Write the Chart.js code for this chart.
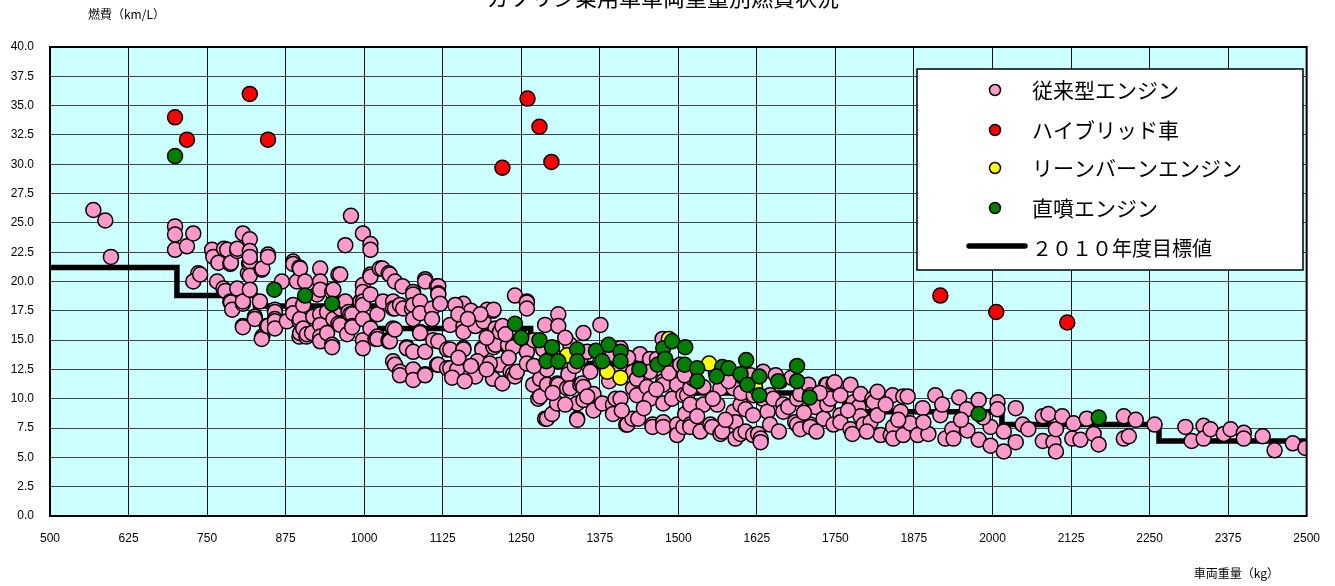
<!DOCTYPE html>
<html>
<head>
<meta charset="utf-8">
<script src="https://cdn.jsdelivr.net/npm/chart.js@4/dist/chart.umd.min.js"></script>
<style>
    body { margin: 0; background: #fff; }
</style>
</head>
<body>
<canvas id="fuelChart" width="1335" height="586"></canvas>
<script>
'use strict';

var chartTitle = 'ガソリン乗用車車両重量別燃費状況';
var yTitle = '燃費（km/L）';
var xTitle = '車両重量（kg）';
var seriesNames = ['従来型エンジン', 'ハイブリッド車', 'リーンバーンエンジン', '直噴エンジン', '２０１０年度目標値'];

// [車両重量 kg, 燃費 km/L]
var conventional = [
    [569,26.1],[588,25.2],[597,22.1],[699,24.7],[699,24.0],[699,22.7],[718,23.0],[728,24.1],[736,20.7],[728,20.0],
    [739,20.6],[758,22.7],[760,22.1],[768,21.6],[777,22.8],[782,22.7],[787,21.5],[788,21.6],[766,20.0],[776,19.4],
    [779,19.2],[787,18.3],[788,18.2],[790,17.6],[798,22.6],[798,19.4],[798,22.8],
    [807,24.1],[818,23.6],[807,18.1],[807,18.3],[807,16.2],[807,16.1],[815,20.7],[817,21.5],[818,22.6],[818,21.7],
    [818,20.5],[818,19.3],[818,22.1],[826,17.0],[826,16.8],[834,18.3],[837,21.0],[838,21.1],[838,15.3],[837,15.1],
    [845,16.2],[847,22.3],[847,22.1],[847,16.2],[858,17.6],[858,17.4],[858,16.8],[858,16.6],[858,16.0],[869,20.0],
    [877,16.6],[887,21.7],[887,21.5],[887,18.0],[887,17.3],[893,20.0],[897,21.2],[897,16.6],[897,15.3],[898,21.1],
    [898,16.8],[898,15.6],[903,18.0],[903,16.0],[906,20.0],[908,15.3],[909,15.5],[917,15.6],[919,17.0],[925,18.9],
    [930,21.1],[930,20.0],[930,19.3],[930,17.2],[930,16.3],[930,15.3],[930,14.9],[941,17.4],[941,15.6],[949,19.1],
    [949,14.6],[949,14.4],[951,19.3],[951,16.8],[959,20.6],[959,16.4],[962,20.6],[962,17.7],[962,16.3],[970,23.1],
    [970,18.1],[970,18.3],[973,15.5],[975,17.4],[978,17.2],[979,25.6],[981,17.2],[981,16.2],[981,16.1],[994,18.3],
    [998,24.1],[998,19.7],[998,19.1],[998,18.3],[998,18.0],[998,16.8],[998,15.0],[998,14.3],
    [1010,23.2],[1010,22.7],[1010,20.6],[1010,20.4],[1010,18.9],[1010,16.0],[1018,15.1],[1021,17.2],[1021,15.3],[1021,15.1],
    [1025,21.1],[1029,21.1],[1030,18.3],[1039,20.7],[1039,15.0],[1039,14.9],[1041,20.6],[1041,14.9],[1046,18.3],[1046,17.7],
    [1046,16.0],[1046,13.2],[1049,20.0],[1049,17.7],[1049,15.9],[1049,12.9],[1057,18.0],[1057,12.3],[1057,12.0],[1061,19.6],
    [1062,17.7],[1068,14.4],[1068,14.3],[1076,17.7],[1078,19.1],[1078,18.9],[1078,18.0],[1078,16.8],[1078,14.0],[1078,12.5],
    [1078,11.6],[1089,18.3],[1089,17.3],[1089,15.7],[1089,15.6],[1097,20.2],[1097,20.0],[1097,14.0],[1097,12.1],[1097,12.0],
    [1108,17.7],[1108,16.8],[1110,15.0],[1116,19.6],[1116,12.9],[1118,19.6],[1118,19.0],[1118,18.9],[1118,14.9],[1118,12.9],
    [1121,18.1],
    [1132,14.2],[1132,12.6],[1137,16.3],[1137,14.2],[1137,12.6],[1148,12.5],[1158,18.1],[1158,16.2],[1158,15.7],[1158,14.3],
    [1158,14.2],[1177,16.2],[1177,11.9],[1188,14.3],[1188,14.2],[1190,16.6],[1196,17.6],[1205,17.5],[1205,14.6],[1205,11.7],
    [1206,17.6],[1206,14.4],[1209,16.0],[1209,14.6],[1216,15.7],[1216,12.9],[1220,16.2],[1220,11.3],[1229,14.4],[1229,14.6],
    [1233,12.3],[1237,14.4],[1237,12.1],[1240,18.8],[1240,11.9],[1243,12.3],[1145,18.0],[1170,17.5],[1185,17.2],[1150,17.2],
    [1165,16.8],[1195,15.2],[1225,15.5],[1180,13.2],[1200,13.0],[1230,13.5],[1150,13.5],[1170,12.8],[1140,11.8],[1160,11.5],
    [1195,12.5],
    [1259,18.3],[1259,18.2],[1259,17.7],[1259,14.0],[1259,13.0],[1269,11.2],[1277,10.0],[1280,11.7],[1280,10.2],[1288,16.3],
    [1288,8.3],[1291,12.5],[1291,11.2],[1291,8.3],[1299,8.7],[1307,11.3],[1307,9.6],[1309,17.2],[1309,16.2],[1309,11.2],
    [1317,13.2],[1323,10.9],[1325,12.1],[1328,14.6],[1328,10.9],[1339,9.6],[1339,8.3],[1339,8.2],[1344,13.4],[1344,11.2],
    [1347,11.3],[1349,15.6],[1349,11.0],[1349,9.9],[1360,12.3],[1365,10.4],[1270,15.0],[1285,14.2],[1300,13.8],[1320,15.2],
    [1335,12.8],[1355,14.0],[1270,12.8],[1300,10.5],[1320,9.5],[1355,10.2],[1365,9.0],
    [1376,16.3],[1376,13.2],[1379,9.6],[1396,9.5],[1396,8.7],[1400,10.0],[1408,14.3],[1408,12.6],[1408,10.0],[1417,7.8],
    [1419,7.8],[1427,8.3],[1428,12.3],[1428,10.9],[1434,10.3],[1434,11.7],[1436,8.3],[1439,13.8],[1450,11.0],[1455,13.4],
    [1455,12.3],[1455,10.0],[1459,7.8],[1459,7.6],[1466,13.4],[1475,15.1],[1476,11.5],[1476,11.2],[1476,9.6],[1476,8.0],
    [1476,7.6],[1482,13.0],[1498,11.2],[1498,7.8],[1498,6.9],[1390,11.5],[1410,9.0],[1445,9.2],[1465,10.8],[1490,10.0],
    [1395,13.8],[1420,13.5],[1485,12.2],
    [1503,12.9],[1508,10.3],[1508,7.6],[1511,8.7],[1514,10.3],[1519,10.9],[1519,9.5],[1519,7.8],[1519,7.6],[1524,11.7],
    [1535,7.2],[1540,9.5],[1551,7.8],[1554,7.6],[1562,9.5],[1567,10.9],[1567,7.0],[1570,7.2],[1588,10.9],[1588,8.9],
    [1591,8.0],[1591,6.6],[1599,9.5],[1599,7.0],[1607,9.1],[1607,7.2],[1619,8.6],[1619,6.9],[1540,11.0],[1560,12.2],
    [1580,11.5],[1600,10.5],[1615,12.0],[1530,8.5],[1575,8.2],[1555,10.0],[1620,10.3],[1510,12.0],
    [1627,7.0],[1631,6.6],[1631,6.3],[1634,10.0],[1635,12.3],[1642,8.9],[1646,10.3],[1646,7.8],[1651,10.0],[1662,11.5],
    [1667,9.5],[1667,8.9],[1675,9.3],[1686,8.0],[1689,10.0],[1689,7.8],[1694,10.4],[1694,7.4],[1707,11.2],[1710,10.3],
    [1710,7.8],[1710,7.6],[1718,9.3],[1731,8.3],[1735,11.2],[1737,11.2],[1737,9.5],[1742,10.0],[1747,11.3],[1747,7.8],
    [1749,11.4],[1655,12.0],[1680,11.8],[1700,8.8],[1725,10.5],[1660,7.2],[1720,7.2],
    [1758,10.3],[1758,8.6],[1758,8.0],[1774,11.2],[1774,7.4],[1777,7.0],[1779,9.7],[1787,9.3],[1790,10.4],[1790,8.5],
    [1795,7.8],[1806,8.0],[1809,10.0],[1811,9.7],[1817,10.6],[1817,8.6],[1822,6.9],[1838,6.9],[1841,10.3],[1842,7.6],
    [1842,6.6],[1854,8.9],[1858,10.2],[1858,6.9],[1865,10.2],[1869,7.9],[1770,9.0],[1800,7.2],[1830,9.5],[1850,8.2],
    [1881,6.9],[1889,9.2],[1898,7.0],[1909,10.3],[1917,8.6],[1925,6.6],[1936,7.4],[1938,6.6],[1947,10.1],[1959,9.1],
    [1960,7.3],[1978,9.9],[1978,6.5],[1997,7.6],[1997,6.0],[1890,8.0],[1920,9.5],[1950,8.2],[1985,8.4],
    [2008,9.7],[2008,9.1],[2018,7.2],[2018,5.5],[2037,9.2],[2037,6.3],[2048,7.8],[2057,7.4],[2080,8.5],[2080,6.4],
    [2089,8.7],[2097,6.3],[2101,7.4],[2101,5.5],[2111,8.5],[2127,6.6],[2129,7.9],[2140,6.5],[2150,8.3],[2161,7.0],
    [2169,6.1],[2209,8.5],[2209,6.6],[2217,6.8],[2228,8.2],[2258,7.8],[2307,7.6],[2317,6.4],[2336,7.7],[2336,6.6],
    [2347,7.4],[2368,7.0],[2379,7.4],[2400,7.1],[2400,6.6],[2430,6.8],[2449,5.6],[2478,6.2],[2498,5.8]
];

var hybrid = [
    [699,34.0],[718,32.1],[818,36.0],[847,32.1],[1220,29.7],[1260,35.6],[1279,33.2],[1298,30.2],
    [1917,18.8],[2006,17.4],[2119,16.5]
];

var leanBurn = [
    [1323,13.7],[1387,12.3],[1408,11.8],[1485,15.1],[1549,13.0],[1622,11.0]
];

var directInjection = [
    [699,30.7],[857,19.3],[906,18.8],[949,18.1],
    [1240,16.4],[1250,15.2],[1279,15.0],[1299,14.4],[1290,13.2],[1309,13.2],[1339,14.2],[1339,13.2],[1369,14.1],[1389,14.6],
    [1379,13.2],[1408,14.0],[1408,13.2],[1438,12.5],[1467,12.9],[1476,14.3],[1479,13.4],[1490,14.9],[1511,14.4],[1510,12.9],
    [1530,12.6],[1530,11.5],[1570,12.7],[1561,11.9],[1580,12.6],[1599,12.1],[1608,13.3],[1610,11.2],[1629,11.9],[1629,10.3],
    [1659,11.5],[1689,12.8],[1689,11.5],[1709,10.1],[1978,8.7],[2169,8.4]
];

// 2010年度燃費基準 (重量区分ごと)
var targetWeights = [500, 702, 702, 827, 827, 1015, 1015, 1265, 1265, 1515, 1515, 1765, 1765, 2015, 2015, 2265, 2265, 2500];
var targetFuel = [21.2, 21.2, 18.8, 18.8, 17.9, 17.9, 16.0, 16.0, 13.0, 13.0, 10.5, 10.5, 8.9, 8.9, 7.8, 7.8, 6.4, 6.4];

function toPoints(list) {
    return list.map(function(p) { return { x: p[0], y: p[1] }; });
}

function scatterSet(label, list, color, order) {
    return {
        label: label,
        data: toPoints(list),
        backgroundColor: color,
        borderColor: '#000',
        borderWidth: 1.5,
        pointRadius: 7.5,
        order: order
    };
}

var plotBackground = {
    id: 'plotBackground',
    beforeDraw: function(chart) {
        var a = chart.chartArea, ctx = chart.ctx;
        ctx.save();
        ctx.fillStyle = '#CCFFFF';
        ctx.fillRect(a.left, a.top, a.right - a.left, a.bottom - a.top);
        ctx.restore();
    }
};

var decorations = {
    id: 'decorations',
    afterDraw: function(chart) {
        var a = chart.chartArea, ctx = chart.ctx;
        ctx.save();
        // frame
        ctx.strokeStyle = '#000';
        ctx.lineWidth = 2;
        ctx.strokeRect(a.left, a.top, a.right - a.left, a.bottom - a.top);

        // titles
        ctx.fillStyle = '#000';
        ctx.font = '22px "Noto Sans CJK JP"';
        ctx.textAlign = 'center';
        ctx.textBaseline = 'bottom';
        ctx.fillText(chartTitle, 663, 9);

        ctx.font = '12px "Noto Sans CJK JP"';
        ctx.textAlign = 'left';
        ctx.textBaseline = 'middle';
        ctx.fillText(yTitle, 88, 14);
        ctx.textAlign = 'right';
        ctx.fillText(xTitle, 1279, 573);

        // legend box
        var bx = 917, by = 69, bw = 386, bh = 201;
        ctx.fillStyle = '#fff';
        ctx.fillRect(bx, by, bw, bh);
        ctx.strokeStyle = '#000';
        ctx.lineWidth = 1.5;
        ctx.strokeRect(bx, by, bw, bh);

        var rows = [90, 130, 168, 208, 248];
        ctx.textAlign = 'left';
        ctx.textBaseline = 'middle';
        chart.data.datasets.forEach(function(ds, i) {
            var y = rows[i];
            if (ds.showLine) {
                ctx.strokeStyle = '#000';
                ctx.lineWidth = 5.5;
                ctx.lineCap = 'round';
                ctx.beginPath();
                ctx.moveTo(969, y - 2);
                ctx.lineTo(1025, y - 2);
                ctx.stroke();
            } else {
                ctx.beginPath();
                ctx.arc(995, y, 5.5, 0, Math.PI * 2);
                ctx.fillStyle = ds.backgroundColor;
                ctx.fill();
                ctx.strokeStyle = '#000';
                ctx.lineWidth = 1.5;
                ctx.stroke();
            }
            ctx.fillStyle = '#000';
            ctx.font = (ds.showLine ? '20px' : '21px') + ' "Noto Sans CJK JP"';
            ctx.fillText(ds.label, 1032, y);
        });
        ctx.restore();
    }
};

var ctx = document.getElementById('fuelChart').getContext('2d');
new Chart(ctx, {
    type: 'scatter',
    data: {
        datasets: [
            scatterSet(seriesNames[0], conventional, '#FF99CC', 4),
            scatterSet(seriesNames[1], hybrid, '#FF0000', 2),
            scatterSet(seriesNames[2], leanBurn, '#FFFF00', 3),
            scatterSet(seriesNames[3], directInjection, '#008000', 1),
            {
                label: seriesNames[4],
                data: targetWeights.map(function(w, i) { return { x: w, y: targetFuel[i] }; }),
                showLine: true,
                borderColor: '#000',
                borderWidth: 5.5,
                pointRadius: 0,
                fill: false,
                order: 5
            }
        ]
    },
    options: {
        responsive: false,
        animation: false,
        layout: { padding: { top: 47, right: 25, left: 0, bottom: 0 } },
        plugins: {
            legend: { display: false },
            tooltip: { enabled: false },
            title: { display: false }
        },
        scales: {
            x: {
                type: 'linear',
                min: 500,
                max: 2500,
                afterFit: function(scale) { scale.height = 70; },
                ticks: {
                    stepSize: 125,
                    padding: 15,
                    color: '#000',
                    font: { family: '"Liberation Sans", Arial, sans-serif', size: 12 },
                    callback: function(v) { return String(v); }
                },
                grid: { color: '#111', lineWidth: 1, drawTicks: false },
                border: { color: '#000', width: 2 }
            },
            y: {
                min: 0,
                max: 40,
                afterFit: function(scale) { scale.width = 50; },
                ticks: {
                    stepSize: 2.5,
                    padding: 16,
                    color: '#000',
                    font: { family: '"Liberation Sans", Arial, sans-serif', size: 12 },
                    callback: function(v) { return v.toFixed(1); }
                },
                grid: { color: '#444', lineWidth: 1, drawTicks: false },
                border: { color: '#000', width: 2 }
            }
        }
    },
    plugins: [plotBackground, decorations]
});
</script>
</body>
</html>
